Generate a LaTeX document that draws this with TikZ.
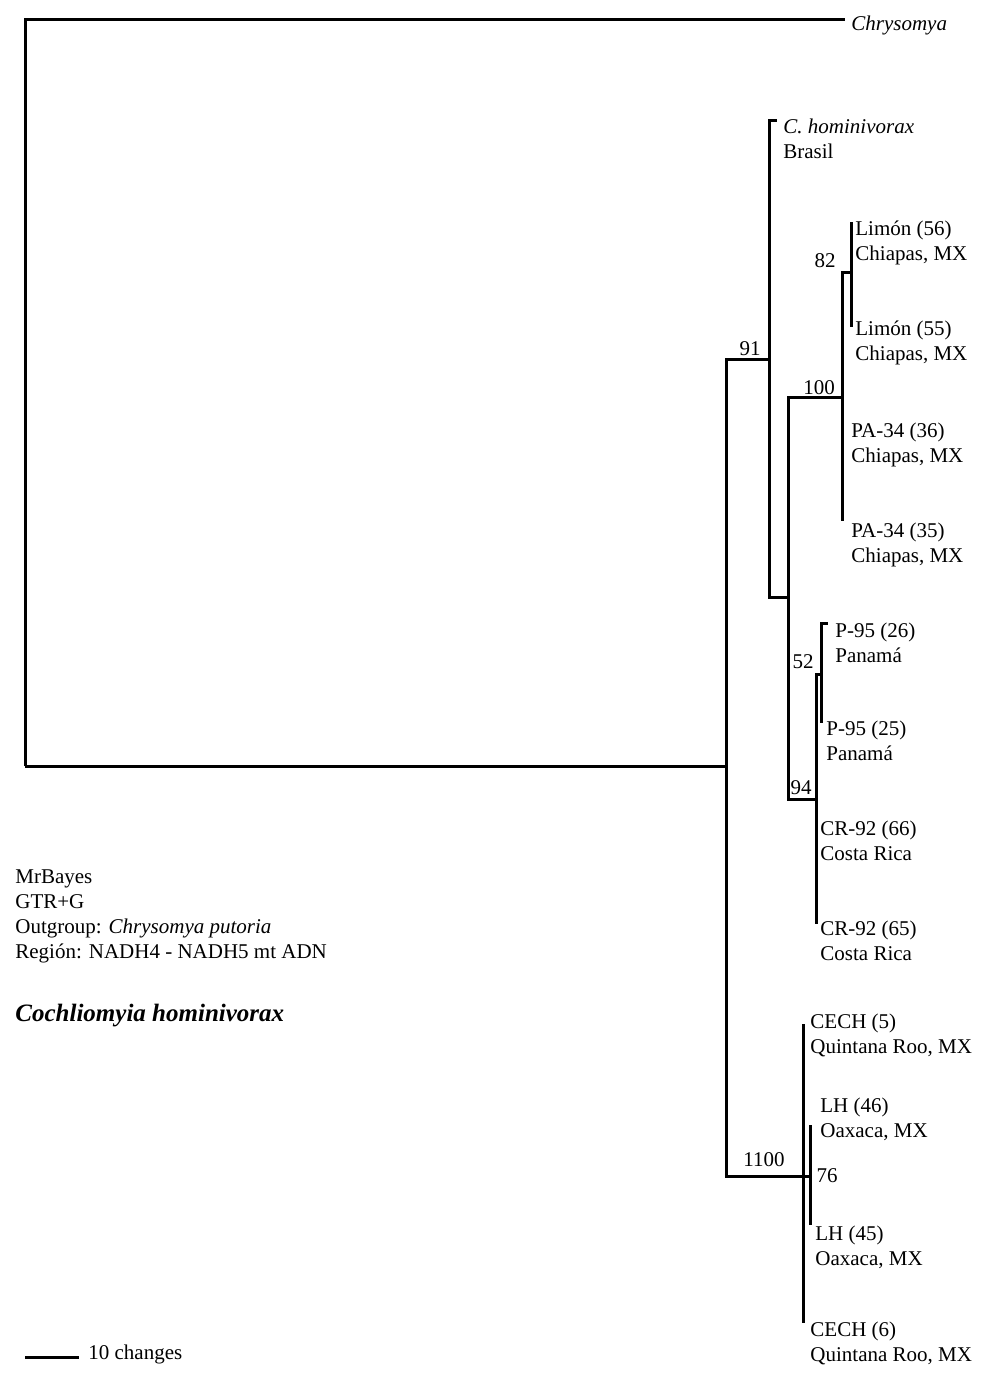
\documentclass[tikz,border=0pt]{standalone}
\usepackage{fontspec}
\setmainfont{Liberation Serif}

\begin{document}
\begin{tikzpicture}[x=0.5pt,y=-0.5pt,
    branch/.style={line width=1.5pt,line join=miter},
    taxon/.style={anchor=base west,inner sep=0pt,align=left,font=\fontsize{10.5}{12.5}\selectfont},
    support/.style={anchor=base,inner sep=0pt,font=\fontsize{10.5}{12.5}\selectfont}]
    %\draw[help lines] (0,0) grid (997,1374);
    \useasboundingbox (0,0) rectangle (997,1374);

    % internal nodes
    \coordinate (root) at (25,766);
    \coordinate (ing) at (726,766);
    \coordinate (n91) at (769,359);
    \coordinate (nA) at (788,597);
    \coordinate (n100) at (842,397);
    \coordinate (n82) at (851,273);
    \coordinate (n94) at (816,799);
    \coordinate (n52) at (821,674);
    \coordinate (n1100) at (803,1176);
    \coordinate (n76) at (810,1176);

    % tips
    \coordinate (tChr) at (845,20);
    \coordinate (tHom) at (777,121);
    \coordinate (tLim56) at (851,222);
    \coordinate (tLim55) at (851,327);
    \coordinate (tPA36) at (842,429);
    \coordinate (tPA35) at (842,521);
    \coordinate (tP26) at (828,623);
    \coordinate (tP25) at (821,723);
    \coordinate (tCR66) at (816,826);
    \coordinate (tCR65) at (816,924);
    \coordinate (tCE5) at (803,1024);
    \coordinate (tLH46) at (810,1125);
    \coordinate (tLH45) at (810,1225);
    \coordinate (tCE6) at (803,1323);

    % branches
    \draw[branch] (root) |- (tChr);
    \draw[branch] (root) -- (ing);
    \draw[branch] (ing) |- (n91);
    \draw[branch] (ing) |- (n1100);
    \draw[branch] (n91) |- (tHom);
    \draw[branch] (n91) |- (nA);
    \draw[branch] (nA) |- (n100);
    \draw[branch] (nA) |- (n94);
    \draw[branch] (n100) |- (n82);
    \draw[branch] (n100) |- (tPA36);
    \draw[branch] (n100) |- (tPA35);
    \draw[branch] (n82) |- (tLim56);
    \draw[branch] (n82) |- (tLim55);
    \draw[branch] (n94) |- (n52);
    \draw[branch] (n94) |- (tCR66);
    \draw[branch] (n94) |- (tCR65);
    \draw[branch] (n52) |- (tP26);
    \draw[branch] (n52) |- (tP25);
    \draw[branch] (n1100) |- (tCE5);
    \draw[branch] (n1100) |- (tCE6);
    \draw[branch] (n1100) -- (n76);
    \draw[branch] (n76) |- (tLH46);
    \draw[branch] (n76) |- (tLH45);

    % taxa (base = last line)
    \node[taxon] (chr) at (851,31) {\itshape Chrysomya};
    \node[taxon] (hom) at (783,159) {\itshape C. hominivorax\\Brasil};
    \node[taxon] (lim56) at (855,261) {Limón (56)\\Chiapas, MX};
    \node[taxon] (lim55) at (855,360) {Limón (55)\\Chiapas, MX};
    \node[taxon] (pa36) at (851,462) {PA-34 (36)\\Chiapas, MX};
    \node[taxon] (pa35) at (851,562) {PA-34 (35)\\Chiapas, MX};
    \node[taxon] (p26) at (835,662) {P-95 (26)\\Panamá};
    \node[taxon] (p25) at (826,760) {P-95 (25)\\Panamá};
    \node[taxon] (cr66) at (820,860) {CR-92 (66)\\Costa Rica};
    \node[taxon] (cr65) at (820,960) {CR-92 (65)\\Costa Rica};
    \node[taxon] (ce5) at (810,1053) {CECH (5)\\Quintana Roo, MX};
    \node[taxon] (lh46) at (820,1137) {LH (46)\\Oaxaca, MX};
    \node[taxon] (lh45) at (815,1265) {LH (45)\\Oaxaca, MX};
    \node[taxon] (ce6) at (810,1361) {CECH (6)\\Quintana Roo, MX};

    % support values
    \node[support] (s91) at (750,355) {91};
    \node[support] (s100) at (819,394) {100};
    \node[support] (s82) at (825,268) {82};
    \node[support] (s52) at (803,668) {52};
    \node[support] (s94) at (801,794) {94};
    \node[support] (s1100) at (764,1166) {1100};
    \node[support] (s76) at (827,1182) {76};

    % legend
    \node[taxon] (info) at (15,958) {MrBayes\\GTR+G\\Outgroup: \textit{Chrysomya putoria}\\Región: NADH4 - NADH5 mt ADN};
    \node[taxon,font=\fontsize{12.5}{15}\selectfont\bfseries\itshape] (species) at (15,1021) {Cochliomyia hominivorax};
    \coordinate (bar0) at (25,1357);
    \coordinate (bar1) at (79,1357);
    \draw[branch] (bar0) -- (bar1);
    \node[taxon] (scale) at (88,1359) {10 changes};
\end{tikzpicture}
\end{document}
